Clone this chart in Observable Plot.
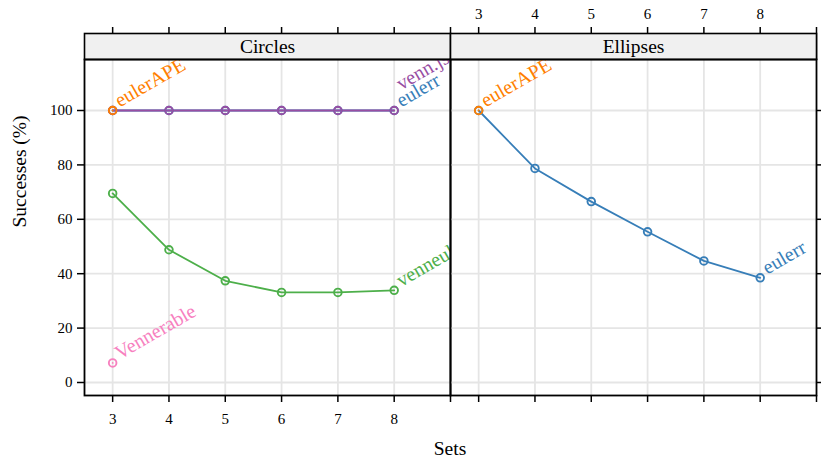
<!DOCTYPE html>
<html>
<head>
<meta charset="utf-8">
<script src="https://cdn.jsdelivr.net/npm/d3@7"></script>
<script src="https://cdn.jsdelivr.net/npm/@observablehq/plot@0.6"></script>
<style>
  html, body { margin: 0; padding: 0; background: white; }
  #wrap { position: relative; width: 821px; height: 458px; font-family: 'Liberation Serif', 'DejaVu Serif', serif; }
  #wrap svg { position: absolute; top: 0; font-family: 'Liberation Serif', 'DejaVu Serif', serif !important; }
  #wrap svg text { font-family: 'Liberation Serif', 'DejaVu Serif', serif; }
  #xtitle { position: absolute; left: 350px; width: 200px; top: 438px; text-align: center; font-size: 19.5px; color: black; }
</style>
</head>
<body>
<div id="wrap"><div id="xtitle">Sets</div></div>
<script>
// ---- data ----
const panels = ["Circles", "Ellipses"];
const methods = ["eulerr", "venn.js", "venneuler", "Vennerable", "eulerAPE"];
const methodColors = ["#377eb8", "#984ea3", "#4daf4a", "#f781bf", "#ff7f00"];
const sets = [3, 4, 5, 6, 7, 8];
const circlesEulerr = [100, 100, 100, 100, 100, 100];
const circlesVennJs = [100, 100, 100, 100, 100, 100];
const circlesVenneuler = [69.5, 48.8, 37.4, 33.1, 33.1, 33.9];
const circlesVennerable = [7.2];
const circlesEulerAPE = [100];
const ellipsesEulerr = [100, 78.7, 66.5, 55.4, 44.7, 38.5];
const ellipsesEulerAPE = [100];
const xTickValues = [3, 4, 5, 6, 7, 8, 9];
const xTickLabels = [3, 4, 5, 6, 7, 8];
const yTickValues = [0, 20, 40, 60, 80, 100];
const xTitle = "Sets";
const yTitle = "Successes (%)";

function rows(panel, method, values) {
  return values.map((v, i) => ({panel, method, sets: sets[i], value: v}));
}
const data = [
  ...rows("Circles", "eulerr", circlesEulerr),
  ...rows("Circles", "venn.js", circlesVennJs),
  ...rows("Circles", "venneuler", circlesVenneuler),
  ...rows("Circles", "Vennerable", circlesVennerable),
  ...rows("Circles", "eulerAPE", circlesEulerAPE),
  ...rows("Ellipses", "eulerr", ellipsesEulerr),
  ...rows("Ellipses", "eulerAPE", ellipsesEulerAPE)
];

const FONT = "'Liberation Serif', 'DejaVu Serif', serif";
const grid = {stroke: "#e5e5e5", strokeOpacity: 1, strokeWidth: 1.8};

function makePanel(name, isLeft) {
  const d = data.filter(r => r.panel === name);
  const last = methods.map(m => d.filter(r => r.method === m).pop()).filter(Boolean);
  const lastMain = last.filter(r => r.method !== "venn.js");
  const lastVenn = last.filter(r => r.method === "venn.js");
  const labelFmt = v => xTickLabels.includes(v) ? String(v) : "";
  const noFmt = () => "";
  const labelOpts = {x: "sets", y: "value", text: "method", fill: "method", rotate: -30,
    textAnchor: "start", lineAnchor: "bottom", fontSize: 20, clip: true, dx: 7};
  return Plot.plot({
    width: isLeft ? 452 : 373,
    height: 458,
    marginLeft: isLeft ? 84 : 2,
    marginRight: isLeft ? 2 : 5,
    marginTop: 59,
    marginBottom: 63,
    x: {domain: [2.5, 9], label: null},
    y: {domain: [-4.78, 118.75], label: null},
    color: {domain: methods, range: methodColors},
    style: {fontFamily: FONT, fontSize: "15px", color: "black", background: "transparent", overflow: "visible"},
    marks: [
      Plot.gridX(xTickLabels, grid),
      Plot.gridY(yTickValues, grid),
      Plot.axisX(xTickValues, {anchor: "top", tickSize: 33, tickPadding: 8, strokeWidth: 1.5,
        tickFormat: isLeft ? noFmt : labelFmt, label: null, fontSize: 15}),
      Plot.frame({fill: "#f0f0f0", stroke: "black", strokeWidth: 1.6, insetTop: -26, insetBottom: 336}),
      Plot.text([name], {frameAnchor: "top", dy: -13, lineAnchor: "middle", fontSize: 19.5, fill: "black"}),
      Plot.axisX(xTickValues, {anchor: "bottom", tickSize: 7, tickPadding: 11, strokeWidth: 1.5,
        tickFormat: isLeft ? labelFmt : noFmt, label: null, fontSize: 15}),
      Plot.axisY(yTickValues, {anchor: isLeft ? "left" : "right", tickSize: 7, tickPadding: 5, strokeWidth: 1.5,
        tickFormat: isLeft ? (v => String(v)) : noFmt, label: null, fontSize: 15}),
      ...(isLeft ? [Plot.text([yTitle], {frameAnchor: "left", dx: -65, rotate: -90, fontSize: 19.5, fill: "black"})] : []),
      Plot.lineY(d, {x: "sets", y: "value", stroke: "method", z: "method", strokeWidth: 1.8}),
      Plot.dot(d, {x: "sets", y: "value", stroke: "method", r: 3.8, strokeWidth: 1.9}),
      Plot.text(lastMain, {...labelOpts, dy: -3}),
      Plot.text(lastVenn, {...labelOpts, dy: -20}),
      Plot.frame({stroke: "black", strokeWidth: 1.8})
    ]
  });
}

const wrap = document.getElementById("wrap");
const left = makePanel(panels[0], true);
left.style.left = "0px";
const right = makePanel(panels[1], false);
right.style.left = "448px";
wrap.appendChild(left);
wrap.appendChild(right);
</script>
</body>
</html>
